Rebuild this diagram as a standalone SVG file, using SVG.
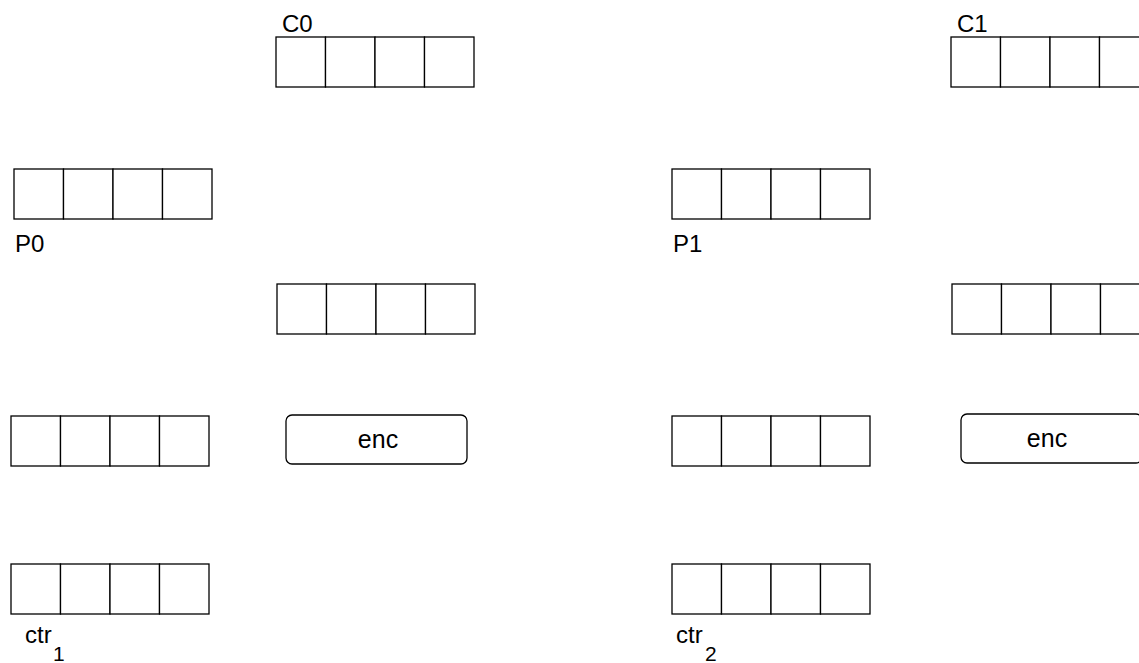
<svg xmlns="http://www.w3.org/2000/svg" width="1139" height="663" viewBox="0 0 1139 663">
<defs>
<style>
.cell{fill:#fff;stroke:#000;stroke-width:1.3}
.lbl{font-family:"Liberation Sans",Arial,sans-serif;font-size:24px;fill:#000}
.ctr{font-family:"Liberation Sans",Arial,sans-serif;font-size:24px;fill:#000}
.sub{font-size:21px}
.enc{font-family:"Liberation Sans",Arial,sans-serif;font-size:25px;fill:#000;text-anchor:middle}
</style>
<g id="reg">
<rect class="cell" x="0" y="0" width="49.5" height="50"/>
<rect class="cell" x="49.5" y="0" width="49.5" height="50"/>
<rect class="cell" x="99" y="0" width="49.5" height="50"/>
<rect class="cell" x="148.5" y="0" width="49.5" height="50"/>
</g>
</defs>
<rect width="1139" height="663" fill="#fff"/>
<g id="C0"><use href="#reg" x="276" y="37"/><text class="lbl" x="282" y="31.5">C0</text></g>
<g id="C1"><use href="#reg" x="951" y="37"/><text class="lbl" x="957" y="31.5">C1</text></g>
<g id="P0"><use href="#reg" x="14" y="169"/><text class="lbl" x="15" y="252">P0</text></g>
<g id="P1"><use href="#reg" x="672" y="169"/><text class="lbl" x="673" y="252">P1</text></g>
<g id="M0"><use href="#reg" x="277" y="284"/></g>
<g id="M1"><use href="#reg" x="952" y="284"/></g>
<g id="X0"><use href="#reg" x="11" y="416"/></g>
<g id="X1"><use href="#reg" x="672" y="416"/></g>
<g id="enc0"><rect class="cell" x="286" y="415" width="181" height="49" rx="6"/><text class="enc" x="378" y="447.5">enc</text></g>
<g id="enc1"><rect class="cell" x="961" y="414" width="181" height="49" rx="6"/><text class="enc" x="1047" y="446.5">enc</text></g>
<g id="ctr1"><use href="#reg" x="11" y="564"/><text class="ctr" x="25" y="643">ctr<tspan class="sub" x="53" y="661">1</tspan></text></g>
<g id="ctr2"><use href="#reg" x="672" y="564"/><text class="ctr" x="676" y="643">ctr<tspan class="sub" x="705" y="661">2</tspan></text></g>
<g id="connectors"></g>
</svg>
